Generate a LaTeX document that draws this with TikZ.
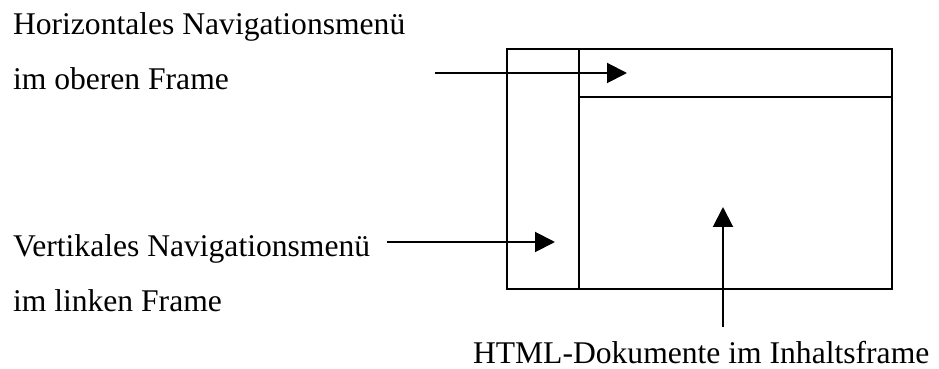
\documentclass[tikz,border=0pt]{standalone}
\usepackage{fontspec}
\setmainfont{Liberation Serif}
\usetikzlibrary{arrows.meta}

\begin{document}
\begin{tikzpicture}[x=0.5pt,y=-0.5pt,line width=1pt,
    >={Triangle[length=10pt,width=10pt]},
    font=\fontsize{15.8}{19}\selectfont]
      % ここまでをバウンディングボックス内とする
      \useasboundingbox (0,0) rectangle (939,369);

      % フレーム
      \coordinate (frameNW) at (507,49);
      \coordinate (frameSE) at (892,289);
      \coordinate (menuTop) at (579,49);
      \coordinate (menuBot) at (579,289);
      \coordinate (topL) at (579,97);
      \coordinate (topR) at (892,97);
      \draw (frameNW) rectangle (frameSE);
      \draw (menuTop) -- (menuBot);
      \draw (topL) -- (topR);

      % 説明
      \node[anchor=base west,inner sep=0pt] (horiz) at (12,35) {Horizontales Navigationsmenü};
      \node[anchor=base west,inner sep=0pt] (horiz2) at (12,90) {im oberen Frame};
      \node[anchor=base west,inner sep=0pt] (vert) at (12,257) {Vertikales Navigationsmenü};
      \node[anchor=base west,inner sep=0pt] (vert2) at (12,312) {im linken Frame};
      \node[anchor=base west,inner sep=0pt] (content) at (472,364) {HTML-Dokumente im Inhaltsframe};

      % 矢印
      \coordinate (horizFrom) at (435,73);
      \coordinate (horizTo) at (627,73);
      \coordinate (vertFrom) at (387,242);
      \coordinate (vertTo) at (555,242);
      \coordinate (contentFrom) at (723,327);
      \coordinate (contentTo) at (723,207);
      \draw[->] (horizFrom) -- (horizTo);
      \draw[->] (vertFrom) -- (vertTo);
      \draw[->] (contentFrom) -- (contentTo);

      % 座標確認用グリッド
      %\draw[step=10,lightgray] (0,0) grid (939,369);
    \end{tikzpicture}
\end{document}
